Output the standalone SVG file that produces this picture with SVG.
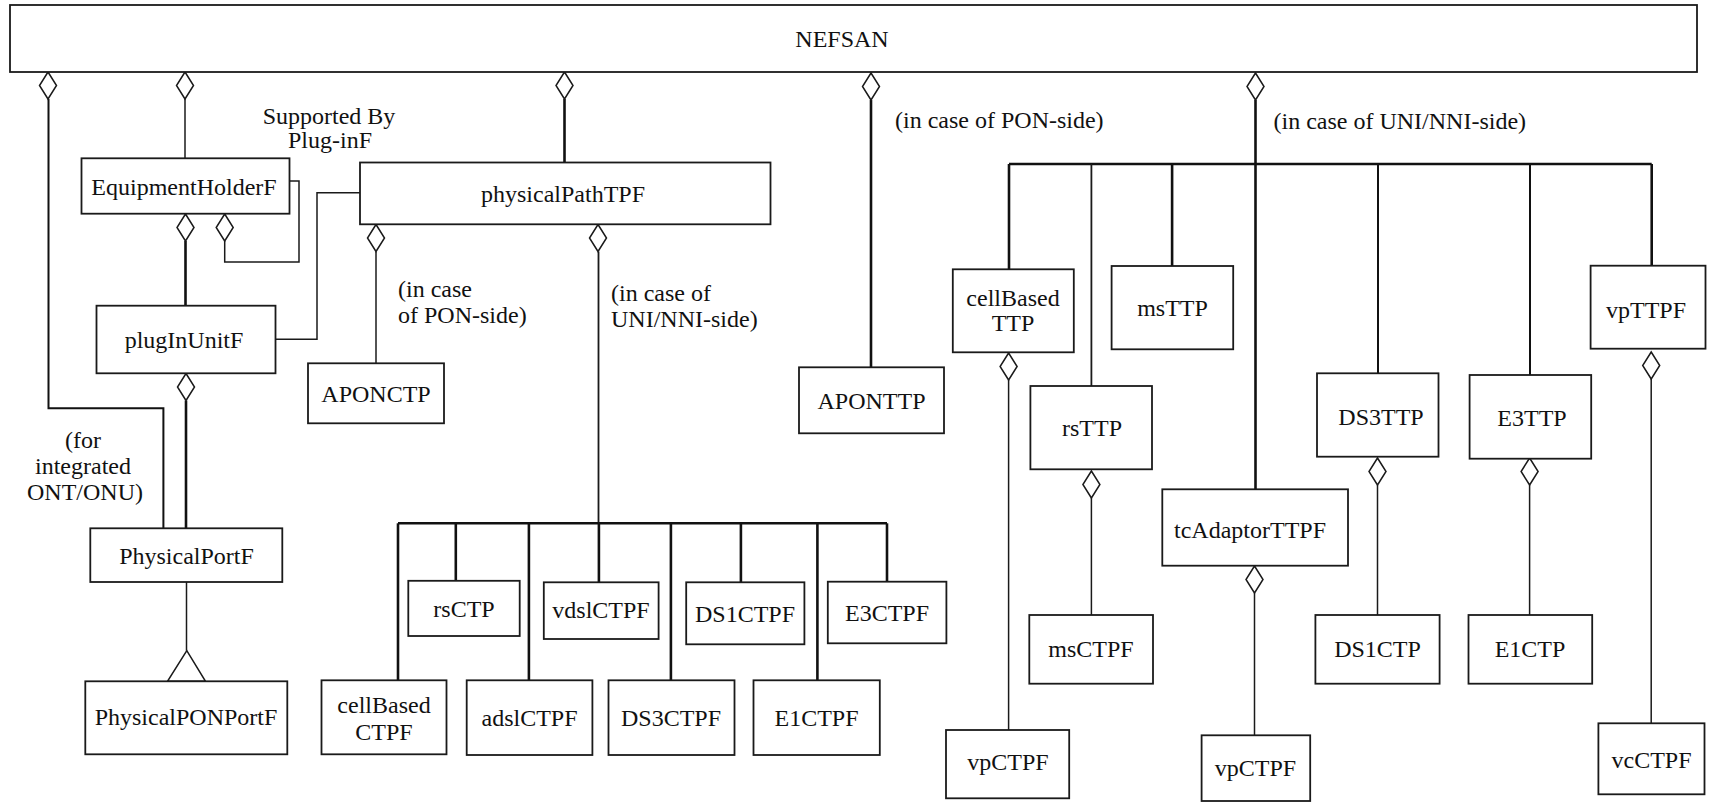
<svg xmlns="http://www.w3.org/2000/svg" xmlns:xlink="http://www.w3.org/1999/xlink" width="1711" height="802" viewBox="0 0 1711 802">
  <style>
    .box { fill: #ffffff; stroke: #1a1a1a; stroke-width: 1.8; }
    .lbl { font-family: "Liberation Serif", "Times New Roman", serif; font-size: 24px; fill: #111111; }
    .c { text-anchor: middle; }
    .thin { fill: none; stroke: #1a1a1a; stroke-width: 1.5; }
    .thick { fill: none; stroke: #111111; stroke-width: 2.6; }
    .dia { fill: #ffffff; stroke: #1a1a1a; stroke-width: 1.5; }
  </style>
  <defs>
    <!-- hollow aggregation diamond, top vertex at the origin -->
    <path id="agg" d="M0,0 L8.5,13.5 L0,27 L-8.5,13.5 Z"/>
  </defs>
  <rect width="1711" height="802" fill="#ffffff"/>

  <g id="connectors">
    <!-- NEFSAN containment lines -->
    <path class="thick" d="M48.5 99 V408.3 H163.4 V528.3" style="stroke-width:2"/>
    <path class="thin" d="M185 99 V158.3"/>
    <path class="thick" d="M564.5 99 V162.5"/>
    <path class="thick" d="M871 100 V367.3"/>
    <path class="thick" d="M1255.5 100 V489.3"/>

    <!-- equipment holder side -->
    <path class="thick" d="M185.5 241 V305.7"/>
    <path class="thin" d="M289.5 181 H299 V262 H224.7 V241"/>
    <path class="thick" d="M186 400.5 V528.3"/>
    <path class="thin" d="M275.5 339.3 H317 V192.7 H360"/>
    <path class="thin" d="M186.5 582 V650.7"/>
    <polygon class="thin" points="186.8,650.7 167.5,681.3 205.5,681.3"/>

    <!-- physical path TP children -->
    <path class="thin" d="M376 251.5 V363.3"/>
    <path class="thin" d="M598.5 251.5 V523.3" style="stroke-width:1.8"/>
    <path class="thick" d="M398 523.3 H887"/>
    <path class="thick" d="M398 523.3 V680.3"/>
    <path class="thick" d="M455.8 523.3 V580.8"/>
    <path class="thick" d="M528.9 523.3 V680.3"/>
    <path class="thick" d="M598.9 523.3 V582.3"/>
    <path class="thick" d="M670.9 523.3 V680.3"/>
    <path class="thick" d="M740.9 523.3 V582.3"/>
    <path class="thick" d="M817.4 523.3 V680.3"/>
    <path class="thick" d="M887 523.3 V581.7"/>

    <!-- UNI/NNI side bus -->
    <path class="thick" d="M1009 164 H1651.7"/>
    <path class="thick" d="M1009 164 V269.3"/>
    <path class="thin" d="M1091.4 164 V386" style="stroke-width:1.8"/>
    <path class="thick" d="M1172.1 164 V266"/>
    <path class="thick" d="M1378 164 V373.3" style="stroke-width:2"/>
    <path class="thick" d="M1530 164 V375" style="stroke-width:2"/>
    <path class="thick" d="M1651.7 164 V265.7"/>

    <!-- termination point to connection point lines -->
    <path class="thin" d="M1008.6 380 V730"/>
    <path class="thin" d="M1091.4 498 V615"/>
    <path class="thin" d="M1254.5 593 V735.3"/>
    <path class="thin" d="M1377.5 485 V615"/>
    <path class="thin" d="M1529.6 485 V615"/>
    <path class="thin" d="M1651.2 379 V723.3"/>

    <!-- aggregation diamonds -->
    <use xlink:href="#agg" class="dia" x="48" y="72"/>
    <use xlink:href="#agg" class="dia" x="185" y="72"/>
    <use xlink:href="#agg" class="dia" x="564.5" y="72"/>
    <use xlink:href="#agg" class="dia" x="871" y="73"/>
    <use xlink:href="#agg" class="dia" x="1255.5" y="73"/>
    <use xlink:href="#agg" class="dia" x="185.5" y="214"/>
    <use xlink:href="#agg" class="dia" x="224.7" y="214"/>
    <use xlink:href="#agg" class="dia" x="186" y="373.5"/>
    <use xlink:href="#agg" class="dia" x="376" y="224.5"/>
    <use xlink:href="#agg" class="dia" x="598" y="224.5"/>
    <use xlink:href="#agg" class="dia" x="1008.6" y="353"/>
    <use xlink:href="#agg" class="dia" x="1091.4" y="471"/>
    <use xlink:href="#agg" class="dia" x="1254.5" y="566"/>
    <use xlink:href="#agg" class="dia" x="1377.5" y="458"/>
    <use xlink:href="#agg" class="dia" x="1529.6" y="458"/>
    <use xlink:href="#agg" class="dia" x="1651.2" y="352"/>
  </g>

  <g id="annotations">
    <text class="lbl c" x="329" y="124">Supported By</text>
    <text class="lbl c" x="330" y="148">Plug-inF</text>
    <text class="lbl" x="398" y="296.5">(in case</text>
    <text class="lbl" x="398" y="323">of PON-side)</text>
    <text class="lbl" x="611" y="301">(in case of</text>
    <text class="lbl" x="611" y="327">UNI/NNI-side)</text>
    <text class="lbl c" x="83" y="448">(for</text>
    <text class="lbl c" x="83" y="474">integrated</text>
    <text class="lbl c" x="85" y="500">ONT/ONU)</text>
    <text class="lbl" x="895" y="128">(in case of PON-side)</text>
    <text class="lbl" x="1273.5" y="129">(in case of UNI/NNI-side)</text>
  </g>

  <g id="NEFSAN">
    <rect class="box" x="10" y="5" width="1687" height="67"/>
    <text class="lbl c" x="842" y="46.5">NEFSAN</text>
  </g>
  <g id="EquipmentHolderF">
    <rect class="box" x="81.5" y="158.3" width="208" height="55.4"/>
    <text class="lbl c" x="184" y="195">EquipmentHolderF</text>
  </g>
  <g id="plugInUnitF">
    <rect class="box" x="96.5" y="305.7" width="179" height="67.6"/>
    <text class="lbl c" x="184" y="348">plugInUnitF</text>
  </g>
  <g id="PhysicalPortF">
    <rect class="box" x="90.3" y="528.3" width="192" height="53.7"/>
    <text class="lbl c" x="186.5" y="564">PhysicalPortF</text>
  </g>
  <g id="PhysicalPONPortF">
    <rect class="box" x="85.3" y="681.3" width="202" height="73"/>
    <text class="lbl c" x="186" y="725">PhysicalPONPortF</text>
  </g>
  <g id="physicalPathTPF">
    <rect class="box" x="360" y="162.5" width="410.5" height="61.8"/>
    <text class="lbl c" x="563" y="202">physicalPathTPF</text>
  </g>
  <g id="APONCTP">
    <rect class="box" x="308" y="363.3" width="136" height="60"/>
    <text class="lbl c" x="376" y="401.5">APONCTP</text>
  </g>
  <g id="APONTTP">
    <rect class="box" x="799" y="367.3" width="145" height="66"/>
    <text class="lbl c" x="871.5" y="409">APONTTP</text>
  </g>
  <g id="cellBasedCTPF">
    <rect class="box" x="321.5" y="680.3" width="125" height="74"/>
    <text class="lbl c" x="384" y="713">cellBased</text>
    <text class="lbl c" x="384" y="740">CTPF</text>
  </g>
  <g id="rsCTP">
    <rect class="box" x="408.3" y="580.8" width="111.4" height="55.2"/>
    <text class="lbl c" x="464" y="617">rsCTP</text>
  </g>
  <g id="adslCTPF">
    <rect class="box" x="466.7" y="680.3" width="125.7" height="74.7"/>
    <text class="lbl c" x="529.5" y="726">adslCTPF</text>
  </g>
  <g id="vdslCTPF">
    <rect class="box" x="543.8" y="582.3" width="114.8" height="56.7"/>
    <text class="lbl c" x="601" y="618">vdslCTPF</text>
  </g>
  <g id="DS3CTPF">
    <rect class="box" x="608.5" y="680.3" width="126" height="74.7"/>
    <text class="lbl c" x="671" y="726">DS3CTPF</text>
  </g>
  <g id="DS1CTPF">
    <rect class="box" x="686.2" y="582.3" width="118.2" height="62"/>
    <text class="lbl c" x="745" y="622">DS1CTPF</text>
  </g>
  <g id="E1CTPF">
    <rect class="box" x="753.5" y="680.3" width="126.3" height="74.7"/>
    <text class="lbl c" x="816.5" y="726">E1CTPF</text>
  </g>
  <g id="E3CTPF">
    <rect class="box" x="827.8" y="581.7" width="118.6" height="61.6"/>
    <text class="lbl c" x="887" y="621">E3CTPF</text>
  </g>
  <g id="cellBasedTTP">
    <rect class="box" x="952.8" y="269.3" width="121" height="83"/>
    <text class="lbl c" x="1013" y="306">cellBased</text>
    <text class="lbl c" x="1013" y="331">TTP</text>
  </g>
  <g id="msTTP">
    <rect class="box" x="1111.6" y="266" width="121.6" height="83.3"/>
    <text class="lbl c" x="1172.5" y="316">msTTP</text>
  </g>
  <g id="vpTTPF">
    <rect class="box" x="1590.6" y="265.7" width="114.9" height="83"/>
    <text class="lbl c" x="1646" y="318">vpTTPF</text>
  </g>
  <g id="rsTTP">
    <rect class="box" x="1030.4" y="386" width="121.6" height="83.3"/>
    <text class="lbl c" x="1092" y="436">rsTTP</text>
  </g>
  <g id="DS3TTP">
    <rect class="box" x="1317" y="373.3" width="121.5" height="83.4"/>
    <text class="lbl c" x="1381" y="424.5">DS3TTP</text>
  </g>
  <g id="E3TTP">
    <rect class="box" x="1469.6" y="375" width="121.6" height="83.7"/>
    <text class="lbl c" x="1532" y="426">E3TTP</text>
  </g>
  <g id="tcAdaptorTTPF">
    <rect class="box" x="1162.3" y="489.3" width="185.7" height="76.4"/>
    <text class="lbl c" x="1250" y="538">tcAdaptorTTPF</text>
  </g>
  <g id="msCTPF">
    <rect class="box" x="1029.3" y="615" width="123.7" height="68.7"/>
    <text class="lbl c" x="1091" y="657">msCTPF</text>
  </g>
  <g id="DS1CTP">
    <rect class="box" x="1315.4" y="615" width="124.2" height="68.7"/>
    <text class="lbl c" x="1377.5" y="657">DS1CTP</text>
  </g>
  <g id="E1CTP">
    <rect class="box" x="1468.5" y="615" width="123.7" height="68.7"/>
    <text class="lbl c" x="1530" y="657">E1CTP</text>
  </g>
  <g id="vpCTPF-a">
    <rect class="box" x="946" y="730" width="123.2" height="68.3"/>
    <text class="lbl c" x="1008" y="770">vpCTPF</text>
  </g>
  <g id="vpCTPF-b">
    <rect class="box" x="1201.6" y="735.3" width="108.6" height="65.7"/>
    <text class="lbl c" x="1255.5" y="776">vpCTPF</text>
  </g>
  <g id="vcCTPF">
    <rect class="box" x="1598.4" y="723.3" width="106.1" height="71"/>
    <text class="lbl c" x="1651.5" y="768">vcCTPF</text>
  </g>
</svg>
